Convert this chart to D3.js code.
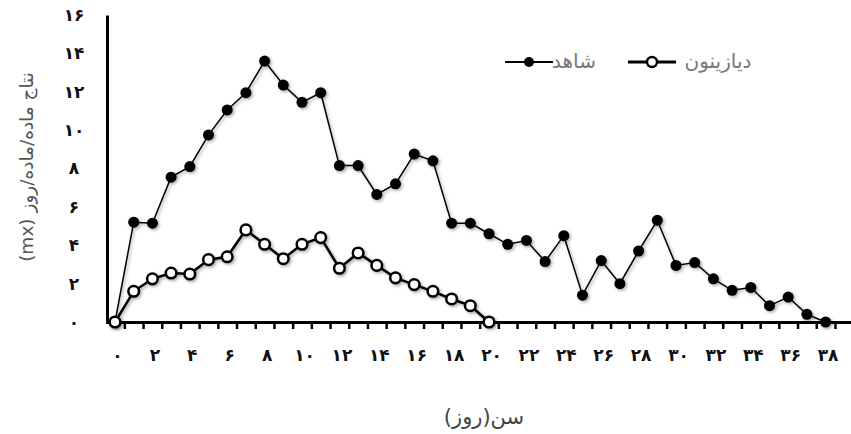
<!DOCTYPE html>
<html>
<head>
<meta charset="utf-8">
<script src="https://cdn.jsdelivr.net/npm/d3@7"></script>
<style>
  body { margin: 0; background: #fff; }
  svg { display: block; }
</style>
</head>
<body>
<div class="vis-linechart"></div>
<script>
// days (categories on the x axis)
const days = [0,1,2,3,4,5,6,7,8,9,10,11,12,13,14,15,16,17,18,19,
              20,21,22,23,24,25,26,27,28,29,30,31,32,33,34,35,36,37,38];
// control series (شاهد), one value per day
const shahed = [0,5.2,5.15,7.55,8.1,9.75,11.05,11.95,13.6,12.35,11.45,11.95,8.15,8.15,6.65,7.2,8.75,8.4,
                5.15,5.15,4.6,4.05,4.25,3.15,4.5,1.4,3.2,2.0,3.7,5.3,2.95,3.1,2.25,1.65,1.8,0.85,1.3,0.4,0];
// diazinon series (دیازینون), days 0..20
const diazinonDays = [0,1,2,3,4,5,6,7,8,9,10,11,12,13,14,15,16,17,18,19,20];
const diazinon = [0,1.6,2.25,2.55,2.5,3.25,3.4,4.8,4.05,3.3,4.05,4.4,2.8,3.6,2.95,2.3,1.95,1.6,1.2,0.85,0];

const yTicks = [0,2,4,6,8,10,12,14,16];
const xTickLabels = [0,2,4,6,8,10,12,14,16,18,20,22,24,26,28,30,32,34,36,38];
const seriesNames = ['شاهد', 'دیازینون'];
const xTitle = 'سن(روز)';
const yTitle = 'نتاج ماده/ماده/روز (mx)';

const width = 851, height = 434;
const fa = d => String(d).replace(/\d/g, c => '۰۱۲۳۴۵۶۷۸۹'[c]);

const svg = d3.select(".vis-linechart")
  .append("svg")
    .attr("width", width)
    .attr("height", height);

// soft shadow like the original office chart
const filter = svg.append("defs").append("filter")
    .attr("id", "shadow")
    .attr("x", "-20%").attr("y", "-20%")
    .attr("width", "140%").attr("height", "140%");
filter.append("feDropShadow")
    .attr("dx", 1.5).attr("dy", 1.5)
    .attr("stdDeviation", 1.4)
    .attr("flood-color", "#000")
    .attr("flood-opacity", 0.35);

// scales (category axis, ticks between categories)
const x = d3.scaleLinear()
  .domain([-0.5, 39.5])
  .range([105.65, 853.65]);
const y = d3.scaleLinear()
  .domain([0, 16])
  .range([322, 15]);

// X axis: tick marks between days
const xAxis = svg.append("g")
  .attr("transform", "translate(0,322)")
  .call(d3.axisBottom(x)
    .tickValues(days.map(d => d + 0.5))
    .tickFormat("")
    .tickSize(7)
    .tickSizeOuter(0));
xAxis.select(".domain").attr("stroke", "#000").attr("stroke-width", 3);
xAxis.selectAll(".tick line").attr("stroke", "#000").attr("stroke-width", 2.5);

// X labels
const xLab = svg.append("g")
  .attr("transform", "translate(2,322)")
  .call(d3.axisBottom(x)
    .tickValues(xTickLabels)
    .tickFormat(fa)
    .tickSize(0)
    .tickPadding(27));
xLab.select(".domain").remove();
xLab.selectAll("text")
  .attr("font-family", "DejaVu Sans, sans-serif")
  .attr("font-weight", "bold")
  .attr("font-size", 17)
  .attr("fill", "#111");

// Y axis
const yAxis = svg.append("g")
  .attr("transform", "translate(107,0)")
  .call(d3.axisLeft(y)
    .tickValues(yTicks)
    .tickFormat(fa)
    .tickSize(0)
    .tickSizeOuter(0));
yAxis.select(".domain").attr("stroke", "#000").attr("stroke-width", 3);
yAxis.selectAll("text")
  .attr("x", -33)
  .attr("text-anchor", "middle")
  .attr("font-family", "DejaVu Sans, sans-serif")
  .attr("font-weight", "bold")
  .attr("font-size", 17)
  .attr("fill", "#111");

// axis titles
svg.append("text")
  .attr("x", 484)
  .attr("y", 418)
  .attr("text-anchor", "middle")
  .attr("dominant-baseline", "middle")
  .attr("direction", "rtl")
  .attr("font-family", "DejaVu Sans, sans-serif")
  .attr("font-size", 21)
  .attr("fill", "#444")
  .text(xTitle);

svg.append("text")
  .attr("transform", "translate(28,167) rotate(-90)")
  .attr("text-anchor", "middle")
  .attr("dominant-baseline", "middle")
  .attr("direction", "rtl")
  .attr("font-family", "DejaVu Sans, sans-serif")
  .attr("font-size", 18.5)
  .attr("fill", "#555")
  .text(yTitle);

// line generator
const line = d3.line()
  .x(d => x(d[0]))
  .y(d => y(d[1]));

// control series: thin line, filled dots
const s1 = shahed.map((v, i) => [days[i], v]);
const g1 = svg.append("g").attr("filter", "url(#shadow)");
g1.append("path")
  .datum(s1)
  .attr("d", line)
  .attr("fill", "none")
  .attr("stroke", "#000")
  .attr("stroke-width", 1.5);
g1.selectAll("circle")
  .data(s1)
  .enter()
  .append("circle")
    .attr("cx", d => x(d[0]))
    .attr("cy", d => y(d[1]))
    .attr("r", 5.5)
    .attr("fill", "#000");

// diazinon series: thick line, open dots
const s2 = diazinon.map((v, i) => [diazinonDays[i], v]);
const g2 = svg.append("g").attr("filter", "url(#shadow)");
g2.append("path")
  .datum(s2)
  .attr("d", line)
  .attr("fill", "none")
  .attr("stroke", "#000")
  .attr("stroke-width", 2.5);
g2.selectAll("circle")
  .data(s2)
  .enter()
  .append("circle")
    .attr("cx", d => x(d[0]))
    .attr("cy", d => y(d[1]))
    .attr("r", 5.3)
    .attr("fill", "#fff")
    .attr("stroke", "#000")
    .attr("stroke-width", 2.5);

////////////
// LEGEND //
////////////
const legend = [
  {name: seriesNames[0], x0: 505, open: false, tx: 574},
  {name: seriesNames[1], x0: 628, open: true, tx: 718}
];
const lg = svg.selectAll("g.legend")
  .data(legend)
  .enter()
  .append("g")
    .attr("class", "legend")
    .attr("transform", "translate(0,62)");
lg.append("line")
  .attr("x1", d => d.x0)
  .attr("x2", d => d.x0 + 48)
  .attr("stroke", "#000")
  .attr("stroke-width", d => d.open ? 3 : 2);
lg.append("circle")
  .attr("cx", d => d.x0 + 24)
  .attr("r", 5)
  .attr("fill", d => d.open ? "#fff" : "#000")
  .attr("stroke", "#000")
  .attr("stroke-width", d => d.open ? 2.5 : 0);
lg.append("text")
  .attr("x", d => d.tx)
  .attr("text-anchor", "middle")
  .attr("dominant-baseline", "middle")
  .attr("font-family", "DejaVu Sans, sans-serif")
  .attr("font-size", 20)
  .attr("fill", "#777")
  .text(d => d.name);
</script>
</body>
</html>
